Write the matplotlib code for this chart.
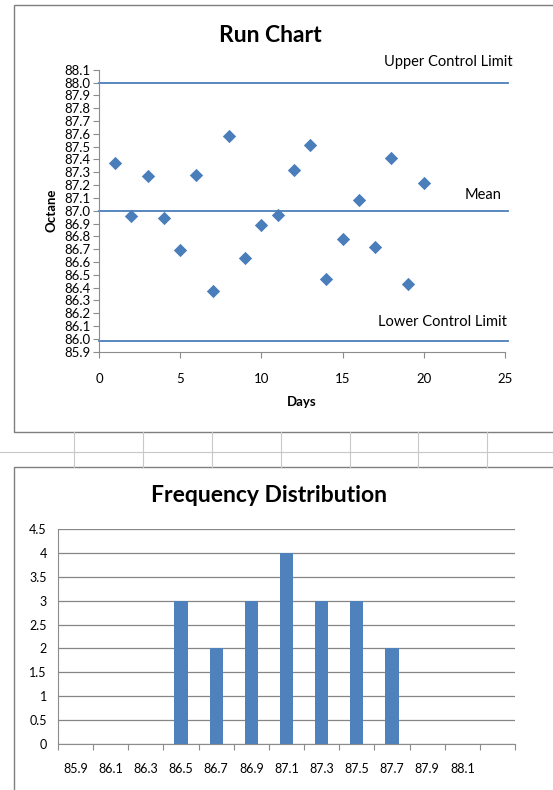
"""Run chart and frequency distribution of octane readings."""

import matplotlib.pyplot as plt
from matplotlib.patches import Rectangle
from matplotlib.lines import Line2D

plt.rcParams["font.family"] = ["Lato", "DejaVu Sans"]

W, H = 553, 790

# Daily octane readings
days = list(range(1, 21))
octane = [87.37, 86.96, 87.27, 86.94, 86.69, 87.28, 86.37, 87.58, 86.63, 86.89,
          86.97, 87.32, 87.51, 86.47, 86.78, 87.08, 86.72, 87.41, 86.43, 87.22]

# Control limits
ucl = 88.0
mean = 87.0
lcl = 85.98

# Histogram bins and counts
bins = ["85.9", "86.1", "86.3", "86.5", "86.7", "86.9", "87.1",
        "87.3", "87.5", "87.7", "87.9", "88.1", ""]
counts = [0, 0, 0, 3, 2, 3, 4, 3, 3, 2, 0, 0, 0]

BLUE = "#4A7EBB"
BAR = "#4F81BD"
GRAY = "#8C8C8C"


def fx(px):
    return px / W


def fy(py):
    return 1 - py / H


def axes_rect(left, top, right, bottom):
    return [fx(left), fy(bottom), fx(right) - fx(left), fy(top) - fy(bottom)]


fig = plt.figure(figsize=(W / 100, H / 100), dpi=100)

# spreadsheet cells visible between the two charts
fig.add_artist(Line2D([fx(0), fx(W)], [fy(452), fy(452)], color="#C8C8C8", lw=0.8))
for cx in [74, 143, 212, 281, 350, 418, 487]:
    fig.add_artist(Line2D([fx(cx), fx(cx)], [fy(432), fy(467)], color="#C8C8C8", lw=0.8))

# chart frames
fig.add_artist(Rectangle((fx(14), fy(432)), fx(560) - fx(14), fy(5) - fy(432),
                         transform=fig.transFigure, fill=False, ec="#7F7F7F", lw=1.0))
fig.add_artist(Rectangle((fx(14), fy(800)), fx(560) - fx(14), fy(467) - fy(800),
                         transform=fig.transFigure, fill=False, ec="#7F7F7F", lw=1.0))

# ---- run chart ----
ax1 = fig.add_axes(axes_rect(99, 69.7, 505, 351.7))
ax1.scatter(days, octane, marker="D", s=46, color=BLUE, zorder=3, linewidths=0)
for level in (ucl, mean, lcl):
    ax1.plot([0, 25.2], [level, level], color=BLUE, lw=1.3, clip_on=False)
ax1.set_xlim(0, 25)
ax1.set_ylim(85.9, 88.1)
ax1.set_xticks(range(0, 26, 5))
yt = [85.9 + 0.1 * i for i in range(23)]
ax1.set_yticks(yt)
ax1.set_yticklabels([f"{v:.1f}" for v in yt])
ax1.tick_params(axis="y", labelsize=9.5, length=4, width=0.8, color=GRAY, pad=2)
ax1.tick_params(axis="x", labelsize=9.5, length=4, width=0.8, color=GRAY, pad=11)
for side in ("top", "right"):
    ax1.spines[side].set_visible(False)
for side in ("left", "bottom"):
    ax1.spines[side].set_color(GRAY)
ax1.set_xlabel("Days", fontsize=9.5, fontweight="bold", labelpad=8)
ax1.set_ylabel("Octane", fontsize=9.5, fontweight="bold", labelpad=5)

fig.text(fx(270), fy(36), "Run Chart", fontsize=16.5, fontweight="bold",
         ha="center", va="center")
fig.text(fx(513), fy(62), "Upper Control Limit", fontsize=10.5, ha="right", va="center")
fig.text(fx(501), fy(195), "Mean", fontsize=10.5, ha="right", va="center")
fig.text(fx(507), fy(322), "Lower Control Limit", fontsize=10.5, ha="right", va="center")

# ---- frequency distribution ----
ax2 = fig.add_axes(axes_rect(58, 529, 515, 744))
pos = list(range(len(bins)))
ax2.bar(pos, counts, width=0.38, color=BAR, zorder=3)
ax2.set_xlim(-0.5, len(bins) - 0.5)
ax2.set_ylim(0, 4.5)
ax2.set_yticks([0, 0.5, 1, 1.5, 2, 2.5, 3, 3.5, 4, 4.5])
ax2.set_yticklabels(["0", "0.5", "1", "1.5", "2", "2.5", "3", "3.5", "4", "4.5"])
ax2.yaxis.grid(True, color="#868686", lw=0.9)
ax2.set_xticks([p - 0.5 for p in pos] + [len(bins) - 0.5])
ax2.set_xticklabels([])
ax2.set_xticks(pos, minor=True)
ax2.set_xticklabels(bins, minor=True)
ax2.tick_params(axis="x", which="major", length=4, width=0.8, color=GRAY)
ax2.tick_params(axis="x", which="minor", length=0, labelsize=9, pad=14)
ax2.tick_params(axis="y", length=0, labelsize=9, pad=8)
for side in ("top", "right"):
    ax2.spines[side].set_visible(False)
for side in ("left", "bottom"):
    ax2.spines[side].set_color(GRAY)

fig.text(fx(269), fy(495), "Frequency Distribution", fontsize=16.5, fontweight="bold",
         ha="center", va="center")

fig.savefig("out.png", dpi=100)
